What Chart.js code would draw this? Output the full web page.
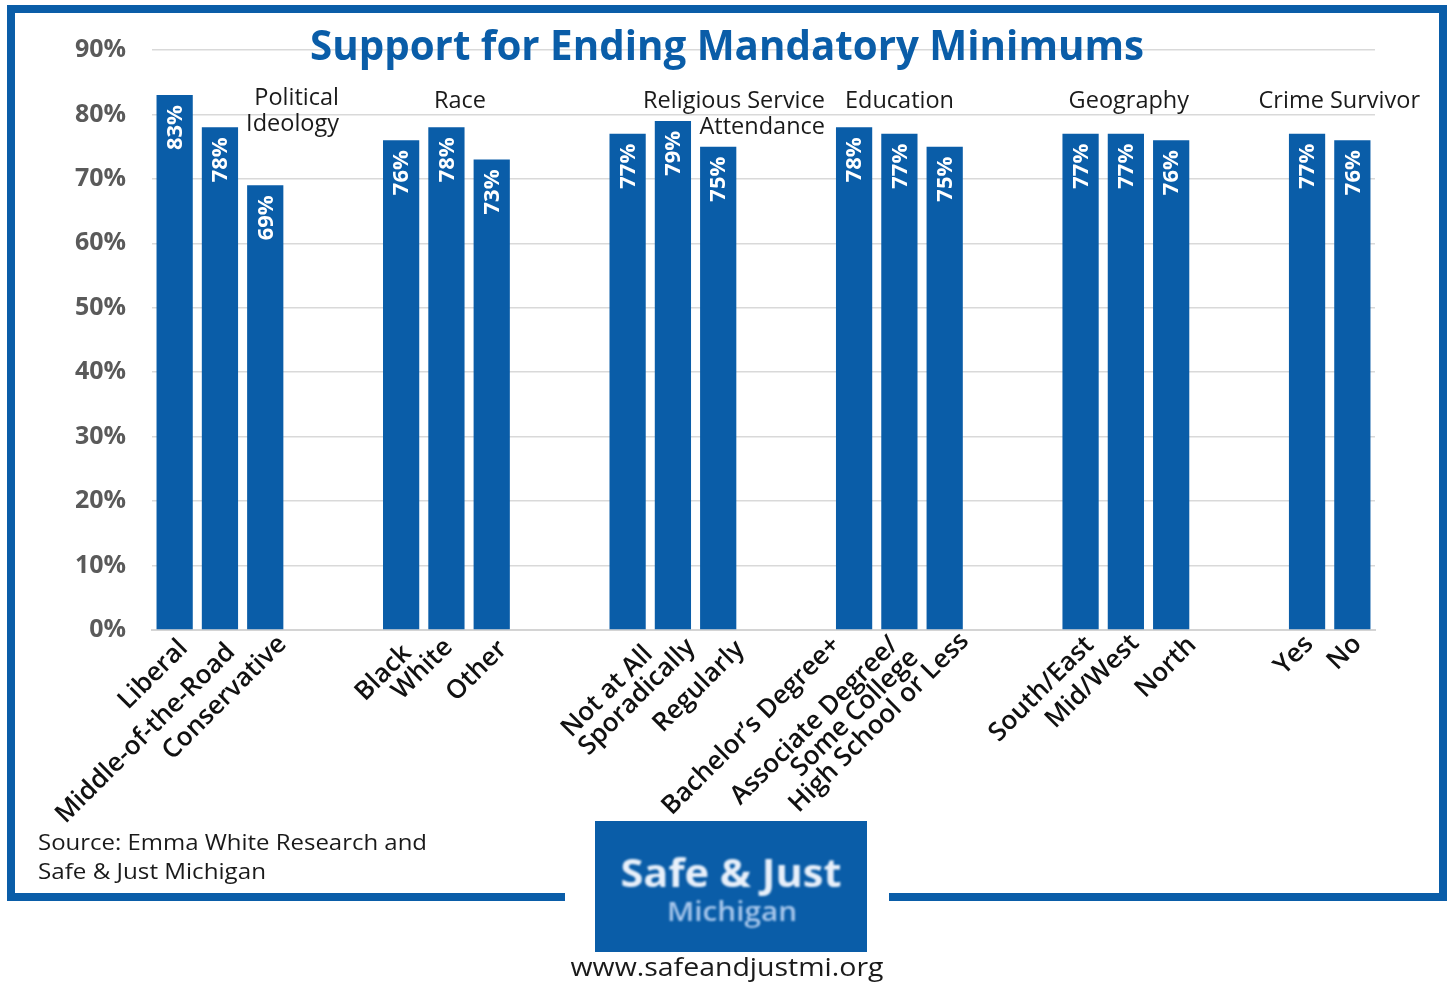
<!DOCTYPE html>
<html>
<head>
<meta charset="utf-8">
<script src="https://cdn.jsdelivr.net/npm/chart.js@4.4.1/dist/chart.umd.min.js"></script>
<style>
  html, body { margin: 0; padding: 0; background: #ffffff; }
  #wrap { width: 1448px; height: 984px; position: relative; }
  canvas { display: block; }
</style>
</head>
<body>
<div id="wrap"><canvas id="c" width="1448" height="984"></canvas></div>
<script>
// Category slots; empty strings are spacer slots between groups.
const categories = [
  'Liberal', 'Middle-of-the-Road', 'Conservative', '', '',
  'Black', 'White', 'Other', '', '',
  'Not at All', 'Sporadically', 'Regularly', '', '',
  'Bachelor\u2019s Degree+', ['Associate Degree/', 'Some College'], 'High School or Less', '', '',
  'South/East', 'Mid/West', 'North', '', '',
  'Yes', 'No'
];
// Share supporting an end to mandatory minimums (%), null for spacer slots.
const support = [
  83, 78, 69, null, null,
  76, 78, 73, null, null,
  77, 79, 75, null, null,
  78, 77, 75, null, null,
  77, 77, 76, null, null,
  77, 76
];
const yTicks = [0, 10, 20, 30, 40, 50, 60, 70, 80, 90];
const groupTitles = [
  { lines: ['Political', 'Ideology'], x: 339, y: 98, align: 'right' },
  { lines: ['Race'], x: 460, y: 101, align: 'center' },
  { lines: ['Religious Service', 'Attendance'], x: 825, y: 101, align: 'right' },
  { lines: ['Education'], x: 845, y: 101, align: 'left' },
  { lines: ['Geography'], x: 1189, y: 101, align: 'right' },
  { lines: ['Crime Survivor'], x: 1420, y: 101, align: 'right' }
];
const titleText = 'Support for Ending Mandatory Minimums';
const sourceLines = ['Source: Emma White Research and', 'Safe & Just Michigan'];
const siteText = 'www.safeandjustmi.org';

const BLUE = '#0a5da8';
const FONT = '"Open Sans", "Noto Sans", sans-serif';

// Where each slanted category label ends, relative to its tick at the axis line.
const labelNudge = [
  [8, 13], [10, 17], [16, 9], null, null,
  [5, 18], [1, 12], [10, 14], null, null,
  [20, 19], [17, 12], [21, 14], null, null,
  [-19, 10], [-6, 10], [19, 6], null, null,
  [8, 10], [8, 8], [20, 10], null, null,
  [1, 9], [4, 9]
];
const LABEL_SIZE = 26;

// Draw text squeezed or stretched horizontally to a given width.
function fitText(ctx, text, x, y, width, align) {
  const w = ctx.measureText(text).width;
  const s = width ? width / w : 1;
  ctx.save();
  ctx.translate(x, y);
  ctx.scale(s, 1);
  ctx.textAlign = align;
  ctx.fillText(text, 0, 0);
  ctx.restore();
}

const decorations = {
  id: 'decorations',
  afterDatasetsDraw(chart) {
    const ctx = chart.ctx;
    // value labels inside bars
    const meta = chart.getDatasetMeta(0);
    ctx.save();
    ctx.fillStyle = '#ffffff';
    ctx.font = 'bold 22px ' + FONT;
    ctx.textBaseline = 'middle';
    meta.data.forEach((bar, i) => {
      const v = support[i];
      if (v === null) return;
      ctx.save();
      ctx.translate(bar.x + 1, bar.y + 10);
      ctx.rotate(-Math.PI / 2);
      ctx.textAlign = 'right';
      ctx.fillText(v + '%', 0, 0);
      ctx.restore();
    });
    ctx.restore();

    // slanted category labels under the axis
    const xs = chart.scales.x;
    ctx.save();
    ctx.fillStyle = '#111111';
    ctx.font = '600 ' + LABEL_SIZE + 'px ' + FONT;
    ctx.textAlign = 'right';
    ctx.textBaseline = 'alphabetic';
    categories.forEach((cat, i) => {
      if (!cat || !labelNudge[i]) return;
      const lines = Array.isArray(cat) ? cat : [cat];
      const [dx, dy] = labelNudge[i];
      ctx.save();
      ctx.translate(xs.getPixelForTick(i) + dx, xs.top + dy);
      ctx.rotate(-Math.PI / 4);
      lines.forEach((ln, k) => {
        ctx.fillText(ln, k * 5, 0.73 * LABEL_SIZE - 10 + k * 23);
      });
      ctx.restore();
    });
    ctx.restore();
  },
  afterDraw(chart) {
    const ctx = chart.ctx;
    ctx.save();
    // frame with a gap at the bottom for the logo
    ctx.strokeStyle = BLUE;
    ctx.lineWidth = 8;
    ctx.lineJoin = 'miter';
    ctx.beginPath();
    ctx.moveTo(565, 897);
    ctx.lineTo(11, 897);
    ctx.lineTo(11, 9);
    ctx.lineTo(1443, 9);
    ctx.lineTo(1443, 897);
    ctx.lineTo(889, 897);
    ctx.stroke();

    // title
    ctx.fillStyle = BLUE;
    ctx.font = 'bold 41px ' + FONT;
    ctx.textBaseline = 'middle';
    fitText(ctx, titleText, 727, 48, 834, 'center');

    // group headings
    ctx.fillStyle = '#1a1a1a';
    ctx.font = '23.5px ' + FONT;
    groupTitles.forEach(g => {
      g.lines.forEach((ln, k) => {
        ctx.textAlign = g.align;
        ctx.fillText(ln, g.x, g.y + k * 26);
      });
    });

    // source note
    ctx.textAlign = 'left';
    ctx.font = '22px ' + FONT;
    fitText(ctx, sourceLines[0], 38, 844, 389, 'left');
    fitText(ctx, sourceLines[1], 38, 873, 228, 'left');

    // logo block
    ctx.fillStyle = BLUE;
    ctx.fillRect(595, 821, 272, 131);
    ctx.filter = 'blur(0.8px)';
    ctx.fillStyle = '#e8f0fa';
    ctx.font = 'bold 40px ' + FONT;
    fitText(ctx, 'Safe & Just', 731, 876, 221, 'center');
    ctx.fillStyle = '#a9c8ec';
    ctx.font = '600 27px ' + FONT;
    fitText(ctx, 'Michigan', 732, 913, 130, 'center');
    ctx.filter = 'none';

    // web address
    ctx.fillStyle = '#1a1a1a';
    ctx.font = '26px ' + FONT;
    fitText(ctx, siteText, 727, 969, 313, 'center');
    ctx.restore();
  }
};

new Chart(document.getElementById('c'), {
  type: 'bar',
  data: {
    labels: categories,
    datasets: [{
      data: support,
      backgroundColor: BLUE,
      borderWidth: 0,
      barPercentage: 0.8,
      categoryPercentage: 1.0
    }]
  },
  options: {
    responsive: false,
    animation: false,
    devicePixelRatio: 1,
    layout: { padding: { left: 0, top: 50, right: 73, bottom: 0 } },
    plugins: {
      legend: { display: false },
      tooltip: { enabled: false },
      title: { display: false }
    },
    scales: {
      x: {
        afterFit(scale) { scale.height = 354; },
        grid: { display: false, drawTicks: false },
        border: { display: true, color: '#d4d4d4', width: 2 },
        ticks: { display: false }
      },
      y: {
        min: 0,
        max: 90,
        afterFit(scale) { scale.width = 152; },
        afterBuildTicks(scale) { scale.ticks = yTicks.map(v => ({ value: v })); },
        border: { display: false },
        grid: { color: '#d9d9d9', lineWidth: 1.5, drawTicks: false },
        ticks: {
          padding: 26,
          color: '#5a5a5a',
          font: { family: FONT, size: 25, weight: 'bold' },
          callback: v => v + '%'
        }
      }
    }
  },
  plugins: [decorations]
});
</script>
</body>
</html>
